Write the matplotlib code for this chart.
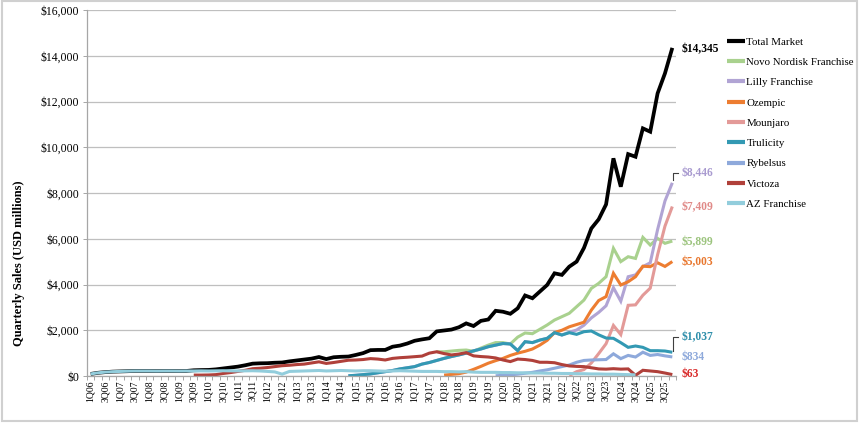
import numpy as np
import matplotlib
matplotlib.use("Agg")
import matplotlib.pyplot as plt
from matplotlib.patches import Rectangle

plt.rcParams['font.family'] = ['Liberation Serif', 'DejaVu Serif']

N = np.nan
years = list(range(2006, 2026))
quarters = [f"{q}Q{y % 100:02d}" for y in years for q in (1, 2, 3, 4)]

total_market = [
    90, 140, 170, 190, 200, 210, 220, 220, 220, 215, 220, 220,
    215, 220, 250, 260, 265, 290, 330, 370, 410, 470, 540, 555,
    560, 580, 590, 640, 680, 720, 760, 830, 740, 820, 840, 850,
    920, 1000, 1130, 1140, 1140, 1280, 1330, 1420, 1540, 1600, 1650, 1950,
    1990, 2030, 2130, 2300, 2185, 2410, 2470, 2850, 2810, 2720, 2960, 3520,
    3400, 3690, 3980, 4490, 4420, 4780, 5000, 5600, 6450, 6850, 7500, 9515,
    8275, 9700, 9585, 10825, 10680, 12355, 13230, 14345]

novo_franchise = [N] * 47 + [
    1060, 1060, 1090, 1120, 1136, 1080, 1220, 1350, 1460, 1460, 1400, 1700,
    1880, 1850, 2040, 2230, 2447, 2593, 2740, 3030, 3320, 3830, 4050, 4340,
    5580, 5000, 5215, 5140, 6060, 5725, 6016, 5800, 5899]

lilly_franchise = [N] * 35 + [
    10, 30, 60, 90, 140, 190, 240, 310, 360, 410, 520, 590,
    680, 770, 850, 920, 1000, 1100, 1180, 1280, 1350, 1420, 1400, 1110,
    1500, 1460, 1570, 1646, 1894, 1792, 1910, 2010, 2220, 2540, 2780, 3070,
    3860, 3270, 4340, 4420, 4780, 4950, 6400, 7650, 8446]

ozempic = [N] * 48 + [
    40, 70, 100, 170, 290, 420, 560, 670, 770, 900, 1000, 1080,
    1180, 1350, 1560, 1900, 2000, 2150, 2250, 2350, 2880, 3300, 3470, 4490,
    3980, 4120, 4340, 4800, 4780, 4950, 4790, 5003]

mounjaro = [N] * 65 + [
    20, 190, 280, 570, 980, 1410, 2210, 1810, 3090, 3110, 3530, 3840,
    5300, 6550, 7409]

trulicity = [N] * 35 + [
    10, 30, 60, 90, 140, 190, 240, 310, 360, 410, 520, 590,
    680, 770, 850, 920, 1000, 1100, 1180, 1280, 1350, 1420, 1400, 1110,
    1500, 1460, 1570, 1646, 1894, 1792, 1894, 1821, 1937, 1967, 1800, 1660,
    1646, 1457, 1253, 1311, 1253, 1107, 1107, 1093, 1037]

rybelsus = [N] * 55 + [
    10, 30, 50, 80, 120, 160, 220, 270, 340, 410, 480, 600,
    680, 700, 710, 720, 970, 760, 900, 830, 1040, 900, 940, 880, 834]

victoza = [N] * 14 + [
    40, 40, 45, 60, 110, 150, 200, 250, 320, 340, 370, 410,
    450, 470, 500, 520, 570, 620, 550, 590, 640, 690, 700, 720,
    760, 740, 700, 770, 800, 820, 845, 870, 1000, 1060, 980, 920,
    960, 1020, 880, 850, 830, 790, 700, 630, 740, 720, 680, 600,
    600, 580, 500, 440, 420, 410, 360, 310, 300, 320, 300, 310,
    30, 250, 220, 190, 130, 63]

az_franchise = [
    90, 140, 170, 190, 200, 210, 220, 220, 220, 215, 220, 220,
    215, 220, 220, 225, 220, 225, 230, 225, 220, 225, 230, 220,
    200, 180, 80, 200, 210, 220, 230, 240, 220, 230, 240, 230,
    220, 230, 230, 220, 210, 220, 230, 220, 210, 200, 200, 200,
    190, 190, 180, 190, 170, 160, 160, 160, 150, 150, 140, 140,
    130, 130, 120, 120, 110, 110, 100, 100, 90, 90, 80, 80,
    70, 60, 50] + [N] * 5

series = [
    ("Total Market", total_market, "#000000", 2.7),
    ("Novo Nordisk Franchise", novo_franchise, "#A9D18E", 2.2),
    ("Lilly Franchise", lilly_franchise, "#B1A4D4", 2.2),
    ("Ozempic", ozempic, "#ED7D31", 2.2),
    ("Mounjaro", mounjaro, "#E39A98", 2.2),
    ("Trulicity", trulicity, "#3399B3", 2.2),
    ("Rybelsus", rybelsus, "#8EA9DB", 2.2),
    ("Victoza", victoza, "#B0403A", 2.2),
    ("AZ Franchise", az_franchise, "#92CDDC", 2.2),
]

W, H = 860, 424
fig = plt.figure(figsize=(W / 100, H / 100), dpi=100)
ax = fig.add_axes([87 / W, (H - 376) / H, (676 - 87) / W, 366 / H])

x = np.arange(len(quarters))
handles = []
for name, vals, col, lw in series:
    h, = ax.plot(x, np.array(vals, dtype=float), color=col, lw=lw,
                 solid_joinstyle='miter', solid_capstyle='butt', label=name)
    handles.append(h)

ax.set_xlim(-0.5, len(quarters) - 0.5)
ax.set_ylim(0, 16000)
ax.set_yticks(np.arange(0, 16001, 2000))
ax.set_yticklabels([f"${v:,.0f}" for v in np.arange(0, 16001, 2000)], fontsize=8.5)
ax.yaxis.grid(True, color="#BFBFBF", lw=0.9)
ax.set_axisbelow(True)

ax.set_xticks(x[::2])
ax.set_xticklabels(quarters[::2], rotation=90, fontsize=7)
ax.set_xticks(np.arange(-0.5, len(quarters), 1), minor=True)
ax.tick_params(axis='x', which='major', length=0, pad=3)
ax.tick_params(axis='x', which='minor', length=3, color="#A6A6A6", width=0.7)
ax.tick_params(axis='y', length=3, color="#A6A6A6", width=0.7, pad=2.5)

for s in ("top", "right"):
    ax.spines[s].set_visible(False)
for s in ("left", "bottom"):
    ax.spines[s].set_color("#A6A6A6")
    ax.spines[s].set_linewidth(0.9)

fig.text(19 / W, (H - 263) / H, "Quarterly Sales (USD millions)", rotation=90,
         ha='center', va='center', fontsize=9, fontweight='bold')

# end labels
end_labels = [
    ("$14,345", 14290, "#000000"),
    ("$8,446", 8870, "#A99BD0"),
    ("$7,409", 7400, "#E08A88"),
    ("$5,899", 5870, "#9CC47E"),
    ("$5,003", 4970, "#E8772E"),
    ("$1,037", 1690, "#2E8FAB"),
    ("$834", 843, "#8EA9DB"),
    ("$63", 74, "#D92B2B"),
]
for txt, yv, col in end_labels:
    ax.text(80.2, yv, txt, color=col, fontsize=8.3, fontweight='bold',
            ha='left', va='center', clip_on=False)

# leader brackets
ax.plot([79.15, 79.15, 79.75], [8560, 8870, 8870], color="#404040", lw=0.8, clip_on=False)
ax.plot([79.15, 79.15, 79.75], [1100, 1690, 1690], color="#404040", lw=0.8, clip_on=False)

leg = fig.legend(handles=handles, loc='upper left',
                 bbox_to_anchor=(727 / W, 1 - 37 / H), frameon=False,
                 fontsize=7.8, handlelength=1.7, handletextpad=0.1,
                 labelspacing=0.99, borderpad=0, borderaxespad=0)
for lh in leg.legend_handles:
    lh.set_linewidth(3)

fig.patches.append(Rectangle((0.002, 0.008), 0.995, 0.99, transform=fig.transFigure,
                             fill=False, edgecolor="#D0D0D0", lw=1.5))

fig.savefig("out.png", dpi=100)
